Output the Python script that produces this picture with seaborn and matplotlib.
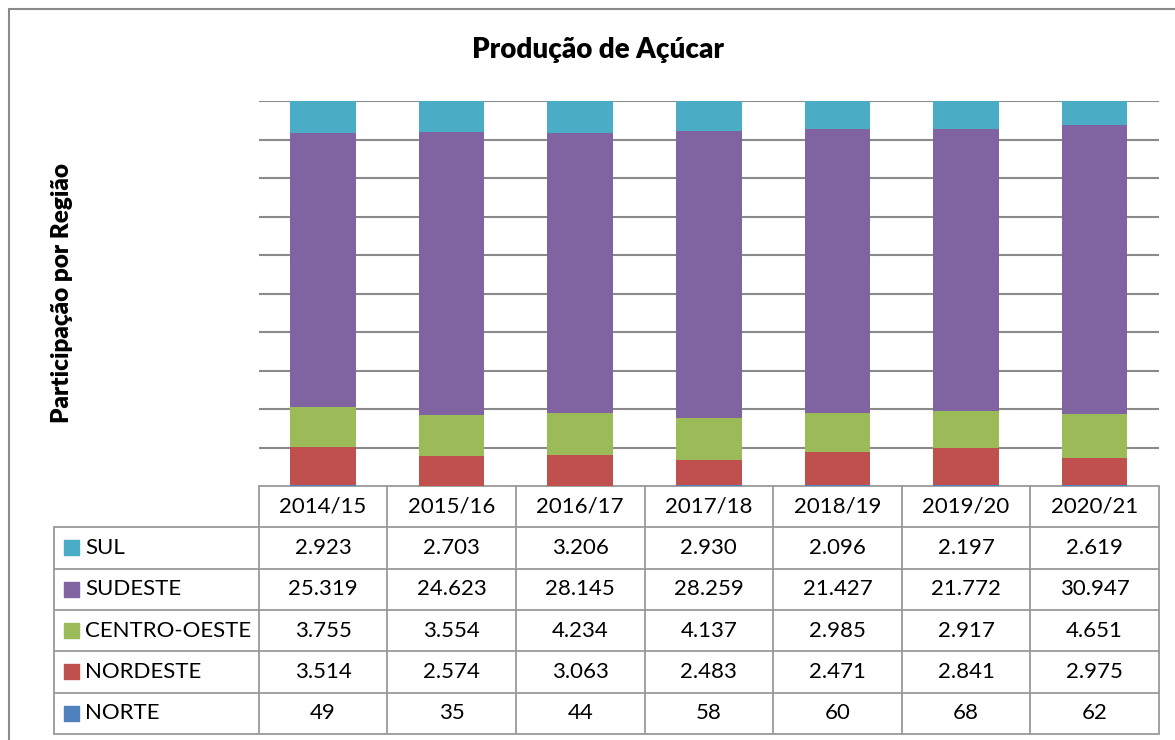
import numpy as np
import pandas as pd
import matplotlib.pyplot as plt
import seaborn as sns

safras = ['2014/15', '2015/16', '2016/17', '2017/18', '2018/19', '2019/20', '2020/21']
regioes = ['SUL', 'SUDESTE', 'CENTRO-OESTE', 'NORDESTE', 'NORTE']
sul = [2923, 2703, 3206, 2930, 2096, 2197, 2619]
sudeste = [25319, 24623, 28145, 28259, 21427, 21772, 30947]
centro_oeste = [3755, 3554, 4234, 4137, 2985, 2917, 4651]
nordeste = [3514, 2574, 3063, 2483, 2471, 2841, 2975]
norte = [49, 35, 44, 58, 60, 68, 62]
cores = ['#4BACC6', '#8064A2', '#9BBB59', '#C0504D', '#4F81BD']

df = pd.DataFrame({'SUL': sul, 'SUDESTE': sudeste, 'CENTRO-OESTE': centro_oeste,
                   'NORDESTE': nordeste, 'NORTE': norte}, index=safras)
share = df.div(df.sum(axis=1), axis=0)

sns.set_theme(style="white")
plt.rcParams['font.family'] = ['Lato', 'DejaVu Sans']
plt.rcParams['text.color'] = 'black'

W, H = 1175, 740
fig = plt.figure(figsize=(W / 100, H / 100), dpi=100)

# fundo em coordenadas de pixel (moldura + tabela)
bg = fig.add_axes([0, 0, 1, 1])
bg.set_xlim(0, W)
bg.set_ylim(H, 0)
bg.axis('off')

borda = '#8a8a8a'
bg.plot([9, W], [9, 9], color=borda, lw=1.5)
bg.plot([9, 9], [9, H], color=borda, lw=1.5)

x0, x_lab, col_w = 54, 258.7, 128.6
y_head, row_h = 486, 41.3
x_end = x_lab + col_w * len(safras)
linha = '#9a9a9a'
fs = 16

# cabeçalho
bg.plot([x_lab, x_end], [y_head, y_head], color=linha, lw=1.3)
for i in range(len(safras) + 1):
    xx = x_lab + i * col_w
    bg.plot([xx, xx], [y_head, y_head + row_h * 6], color=linha, lw=1.3)
bg.plot([x0, x0], [y_head + row_h, y_head + row_h * 6], color=linha, lw=1.3)
for j in range(1, 7):
    yy = y_head + j * row_h
    bg.plot([x0, x_end], [yy, yy], color=linha, lw=1.3)

for i, s in enumerate(safras):
    bg.text(x_lab + (i + 0.5) * col_w, y_head + row_h / 2, s, ha='center', va='center',
            fontsize=fs, color='black')

for j, reg in enumerate(regioes):
    yc = y_head + (j + 1.5) * row_h
    bg.add_patch(plt.Rectangle((64, yc - 7.5), 15, 15, color=cores[j]))
    bg.text(85, yc, reg, ha='left', va='center', fontsize=fs, color='black')
    for i, v in enumerate(df[reg]):
        txt = f"{v:,}".replace(',', '.')
        bg.text(x_lab + (i + 0.5) * col_w, yc, txt, ha='center', va='center',
                fontsize=fs, color='black')

fig.text(598 / W, 1 - 50 / H, 'Produção de Açúcar', ha='center', va='center',
         fontsize=20, fontweight='heavy', color='black')
fig.text(62 / W, 1 - 293 / H, 'Participação por Região', ha='center', va='center',
         rotation=90, fontsize=17.5, fontweight='heavy', color='black')

# barras 100% empilhadas
ax = fig.add_axes([x_lab / W, 1 - 486 / H, (x_end - x_lab) / W, (486 - 101) / H])
ax.set_facecolor('none')
for yv in np.arange(0.1, 1.01, 0.1):
    ax.axhline(yv, color=borda, lw=1.5, zorder=0)

base = np.zeros(len(safras))
for reg, cor in zip(reversed(regioes), reversed(cores)):
    vals = share[reg].to_numpy()
    sns.barplot(x=safras, y=vals, bottom=base, color=cor, width=0.51, saturation=1,
                linewidth=0, errorbar=None, ax=ax, zorder=2)
    base = base + vals

ax.set_xlim(-0.5, len(safras) - 0.5)
ax.set_ylim(0, 1)
ax.set_xticks([])
ax.set_yticks([])
ax.set_xlabel('')
ax.set_ylabel('')
for sp in ax.spines.values():
    sp.set_visible(False)

fig.savefig('out.png', dpi=100)
